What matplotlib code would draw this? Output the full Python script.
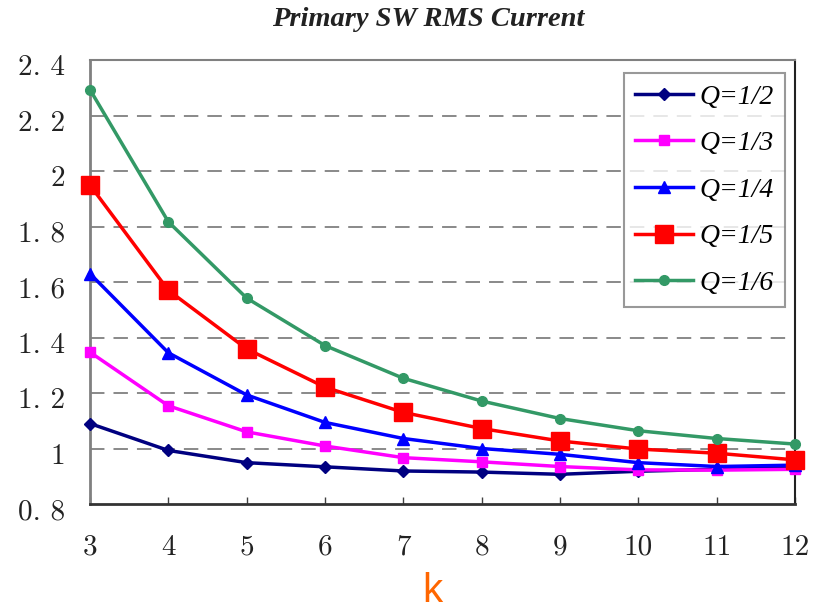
import matplotlib
matplotlib.use("Agg")
import matplotlib.pyplot as plt
import matplotlib.transforms as mtransforms

k_values = [3, 4, 5, 6, 7, 8, 9, 10, 11, 12]
q_half = [1.09, 0.993, 0.949, 0.934, 0.919, 0.915, 0.907, 0.918, 0.925, 0.93]
q_third = [1.347, 1.154, 1.06, 1.009, 0.967, 0.952, 0.935, 0.923, 0.922, 0.925]
q_quarter = [1.63, 1.345, 1.193, 1.094, 1.036, 1.0, 0.979, 0.949, 0.935, 0.94]
q_fifth = [1.949, 1.57, 1.359, 1.221, 1.13, 1.072, 1.027, 0.998, 0.983, 0.959]
q_sixth = [2.293, 1.817, 1.542, 1.371, 1.253, 1.171, 1.108, 1.064, 1.036, 1.016]

series_labels = ["Q=1/2", "Q=1/3", "Q=1/4", "Q=1/5", "Q=1/6"]
y_ticks = [0.8, 1.0, 1.2, 1.4, 1.6, 1.8, 2.0, 2.2, 2.4]
y_tick_labels = ["0. 8", "1", "1. 2", "1. 4", "1. 6", "1. 8", "2", "2. 2", "2. 4"]
x_tick_labels = ["3", "4", "5", "6", "7", "8", "9", "10", "11", "12"]

W, H = 817, 611
fig = plt.figure(figsize=(W / 100, H / 100), dpi=100)
ax = fig.add_axes([90 / W, 1 - 504 / H, 705 / W, 444 / H])

styles = [
    dict(color="#000080", marker="D", markersize=6),
    dict(color="#FF00FF", marker="s", markersize=7),
    dict(color="#0000FF", marker="^", markersize=9),
    dict(color="#FF0000", marker="s", markersize=13),
    dict(color="#339966", marker="o", markersize=7),
]
all_series = [q_half, q_third, q_quarter, q_fifth, q_sixth]
for vals, lab, st in zip(all_series, series_labels, styles):
    ax.plot(k_values, vals, label=lab, linewidth=2.5, clip_on=False, zorder=3, **st)

ax.set_xlim(3, 12)
ax.set_ylim(0.8, 2.4)
ax.set_xticks(k_values)
ax.set_xticklabels(x_tick_labels)
ax.set_yticks(y_ticks)
ax.set_yticklabels(y_tick_labels)

for yv in y_ticks[1:-1]:
    ax.axhline(yv, color="#808080", linewidth=1.3, dashes=(8, 5), zorder=1)

ax.tick_params(axis="y", length=0, pad=18, labelsize=21)
ax.tick_params(axis="x", direction="in", length=5, width=1, color="#404040", pad=22, labelsize=21)
for lbl in ax.get_yticklabels() + ax.get_xticklabels():
    lbl.set_fontfamily("cmr10")
    lbl.set_color("#222222")
off = mtransforms.ScaledTranslation(0, -5 / 100, fig.dpi_scale_trans)
for lbl in ax.get_yticklabels():
    lbl.set_transform(lbl.get_transform() + off)

ax.spines["left"].set_color("#808080")
ax.spines["left"].set_linewidth(2)
ax.spines["top"].set_color("#808080")
ax.spines["top"].set_linewidth(1.5)
ax.spines["bottom"].set_color("#333333")
ax.spines["bottom"].set_linewidth(2)
ax.spines["right"].set_color("#222222")
ax.spines["right"].set_linewidth(1.5)

leg = ax.legend(loc="upper left",
                bbox_to_anchor=(624 / W, 1 - 300 / H, (785 - 624) / W, (300 - 73) / H),
                bbox_transform=fig.transFigure, mode="expand",
                prop=dict(family="Liberation Serif", style="italic", size=20),
                frameon=True, fancybox=False, edgecolor="#808080",
                handlelength=2.1, handletextpad=0.2, labelspacing=0.76,
                borderpad=0.4, borderaxespad=0)
leg.get_frame().set_linewidth(1.5)

fig.text(428 / W, 1 - 20 / H, "Primary SW RMS Current", ha="center", va="center",
         family="Liberation Serif", style="italic", weight="bold", size=20.5, color="#222222")
fig.text(432 / W, 1 - 591 / H, "k", ha="center", va="center",
         family="Liberation Sans", size=29, color="#FF6600")

fig.savefig("out.png", dpi=100)
